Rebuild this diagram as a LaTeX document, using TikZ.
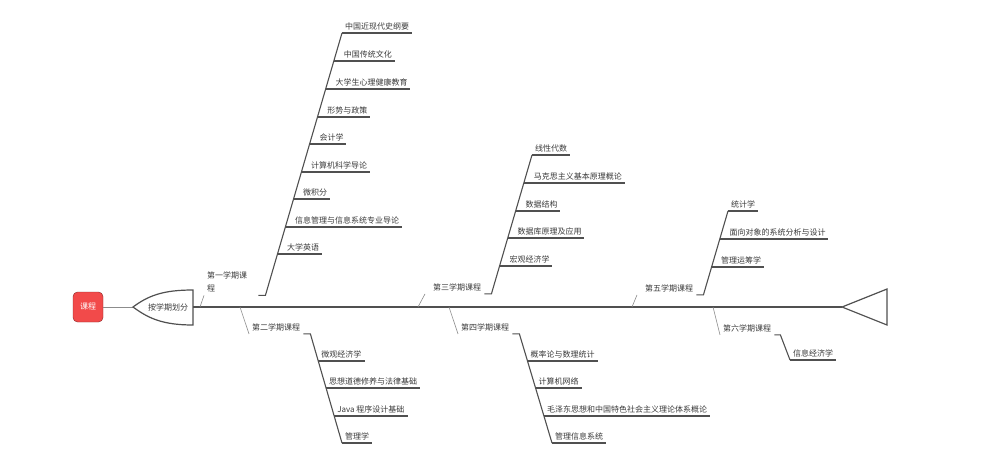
\documentclass[tikz,border=0pt]{standalone}
\usepackage{fontspec}
\newfontfamily\cjk{Noto Sans CJK SC}
\definecolor{bonegray}{HTML}{505050}
\definecolor{twiggray}{HTML}{8C8C8C}
\definecolor{txtgray}{HTML}{3A3A3A}
\definecolor{rootred}{HTML}{F24A4A}
\tikzset{
  course/.style={anchor=south west, inner xsep=3pt, inner ysep=2.5pt, text=txtgray, font=\cjk\fontsize{8}{10}\selectfont},
  upcourse/.style={course, inner xsep=2.5pt, execute at begin node={\hspace*{7.5pt}}},
  term/.style={anchor=west, inner sep=3pt, text=txtgray, font=\cjk\fontsize{8}{13}\selectfont},
  uline/.style={draw=bonegray, line width=1.4pt},
  bone/.style={draw=bonegray, line width=1.1pt},
  twig/.style={draw=twiggray, line width=0.6pt}
}

\begin{document}
\begin{tikzpicture}[x=1pt,y=1pt]
\useasboundingbox (0,0) rectangle (987,-465);
\node [draw=rootred!55!black, fill=rootred, rounded corners=4.5pt, minimum width=30pt, minimum height=30pt, text=white, font=\cjk\fontsize{8}{10}\selectfont] (root) at (88,-307) {课程};
\coordinate (tip) at (133,-307);
\draw [twig, line width=0.9pt] (root) -- (tip);
\draw [bonegray, line width=1.2pt, fill=white] (tip) .. controls (148,-296) and (162,-290) .. (193,-290) -- (193,-325) .. controls (162,-325) and (148,-318) .. (tip) -- cycle;
\node [term, anchor=center] (head) at (168,-307) {按学期划分};
\coordinate (spine) at (193,-307);
\coordinate (tail) at (842,-307);
\draw [bonegray, line width=1.6pt] (spine) -- (tail);
\draw [bonegray, line width=1.2pt, fill=white] (tail) -- (887,-289) -- (887,-325) -- cycle;

\node [term, text width=48pt, align=left] (t1) at (204,-282) {第一学期课\\程};
\node [term] (t2) at (249,-327) {第二学期课程};
\node [term] (t3) at (430,-287) {第三学期课程};
\node [term] (t4) at (458,-327) {第四学期课程};
\node [term] (t5) at (642,-288) {第五学期课程};
\node [term] (t6) at (720,-328) {第六学期课程};

\coordinate (s1) at (200,-307);
\coordinate (s2) at (240,-307);
\coordinate (s3) at (418,-307);
\coordinate (s4) at (449,-307);
\coordinate (s5) at (632,-307);
\coordinate (s6) at (713,-307);
\draw [twig] (s1) -- (t1.south west);
\draw [twig] (s2) -- (t2.south west);
\draw [twig] (s3) -- ([xshift=-5pt]t3.south west);
\draw [twig] (s4) -- (t4.south west);
\draw [twig] (s5) -- ([xshift=-5pt]t5.south west);
\draw [twig] (s6) -- (t6.south west);

\node [course] (c1a) at (342,-33) {中国近现代史纲要};
\node [upcourse] (c1b) at (333.7,-61) {中国传统文化};
\node [upcourse] (c1c) at (325.5,-89) {大学生心理健康教育};
\node [upcourse] (c1d) at (317.2,-117) {形势与政策};
\node [upcourse] (c1e) at (309.3,-144) {会计学};
\node [upcourse] (c1f) at (301,-172) {计算机科学导论};
\node [upcourse] (c1g) at (293,-199) {微积分};
\node [upcourse] (c1h) at (284.8,-227) {信息管理与信息系统专业导论};
\node [upcourse] (c1i) at (276.8,-254) {大学英语};

\node [course] (c2a) at (318.1,-361) {微观经济学};
\node [course] (c2b) at (326,-388) {思想道德修养与法律基础};
\node [course] (c2c) at (334.1,-416) {Java 程序设计基础};
\node [course] (c2d) at (342,-443) {管理学};

\node [course] (c3a) at (532,-155) {线性代数};
\node [upcourse] (c3b) at (523.7,-183) {马克思主义基本原理概论};
\node [upcourse] (c3c) at (515.5,-211) {数据结构};
\node [upcourse] (c3d) at (507.5,-238) {数据库原理及应用};
\node [upcourse] (c3e) at (499.3,-266) {宏观经济学};

\node [course] (c4a) at (527.4,-361) {概率论与数理统计};
\node [course] (c4b) at (535.5,-388) {计算机网络};
\node [course] (c4c) at (543.9,-416) {毛泽东思想和中国特色社会主义理论体系概论};
\node [course] (c4d) at (552,-443) {管理信息系统};

\node [course] (c5a) at (728,-211) {统计学};
\node [upcourse] (c5b) at (719.5,-239) {面向对象的系统分析与设计};
\node [upcourse] (c5c) at (711,-267) {管理运筹学};

\node [course] (c6a) at (790,-360) {信息经济学};

\draw [bone] (t1.south east) -- ++(7,0) -- (c1a.south west);
\draw [bone] (t2.south east) -- ++(7,0) -- (c2d.south west);
\draw [bone] (t3.south east) -- ++(7,0) -- (c3a.south west);
\draw [bone] (t4.south east) -- ++(7,0) -- (c4d.south west);
\draw [bone] (t5.south east) -- ++(7,0) -- (c5a.south west);
\draw [bone] (t6.south east) -- ++(6,0) -- (c6a.south west);

\foreach \n in {c1a,c1b,c1c,c1d,c1e,c1f,c1g,c1h,c1i,c2a,c2b,c2c,c2d,c3a,c3b,c3c,c3d,c3e,c4a,c4b,c4c,c4d,c5a,c5b,c5c,c6a}
  \draw [uline] (\n.south west) -- (\n.south east);
\end{tikzpicture}
\end{document}
